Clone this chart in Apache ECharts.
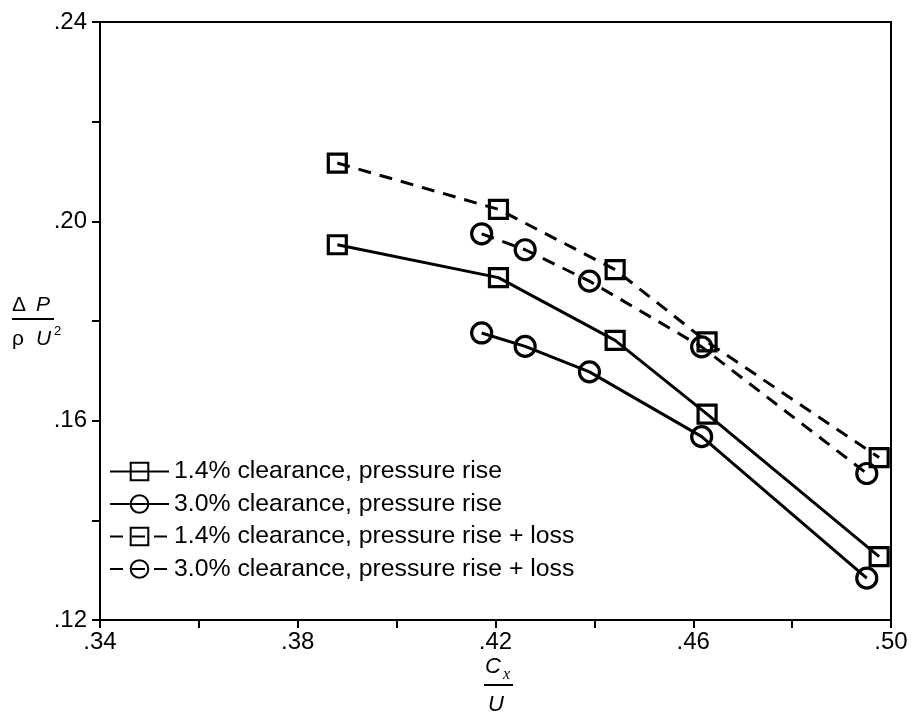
<!DOCTYPE html>
<html>
<head>
<meta charset="utf-8">
<script src="https://cdn.jsdelivr.net/npm/echarts@6/dist/echarts.min.js"></script>
<style>
html,body{margin:0;padding:0;background:#fff;}
#chart{width:912px;height:717px;}
</style>
</head>
<body>
<div id="chart"></div>
<script>
// ---- data ----
var seriesNames = [
  '1.4% clearance, pressure rise',
  '3.0% clearance, pressure rise',
  '1.4% clearance, pressure rise + loss',
  '3.0% clearance, pressure rise + loss'
];
var x14 = [0.3880, 0.4206, 0.4442, 0.4628, 0.4976];
var y14rise = [0.1953, 0.1887, 0.1761, 0.1613, 0.1327];
var y14loss = [0.2117, 0.2024, 0.1903, 0.1758, 0.1526];
var x30 = [0.4172, 0.4260, 0.4390, 0.4617, 0.4951];
var y30rise = [0.1776, 0.1749, 0.1698, 0.1568, 0.1284];
var y30loss = [0.1975, 0.1943, 0.1880, 0.1748, 0.1494];
var xTicks = [0.34, 0.36, 0.38, 0.40, 0.42, 0.44, 0.46, 0.48, 0.50];
var xLabelled = ['.34', '.38', '.42', '.46', '.50'];
var yTicks = [0.12, 0.14, 0.16, 0.18, 0.20, 0.22, 0.24];
var yLabelled = ['.12', '.16', '.20', '.24'];

function pairs(xs, ys) { return xs.map(function (x, i) { return [x, ys[i]]; }); }
function fmt(v) { return v.toFixed(2).replace(/^0/, ''); }

var chart = echarts.init(document.getElementById('chart'));
var FONT = 'Liberation Sans';
var lineW = 3;

function mkSeries(name, data, symbol, size, dashed) {
  return {
    name: name,
    type: 'line',
    data: data,
    symbol: symbol,
    symbolSize: size,
    showSymbol: true,
    lineStyle: { color: '#000', width: lineW, type: dashed ? [13, 9] : 'solid' },
    itemStyle: { color: 'rgba(255,255,255,0)', borderColor: '#000', borderWidth: 3.2 },
    emphasis: { disabled: true },
    animation: false,
    z: 2
  };
}

function txt(left, top, text, size, italic, family) {
  return {
    type: 'text', left: left, top: top,
    style: {
      text: text, fill: '#000', fontSize: size,
      fontStyle: italic ? 'italic' : 'normal',
      fontFamily: family || FONT
    }
  };
}

var option = {
  backgroundColor: '#fff',
  animation: false,
  grid: {
    left: 100, right: 21, top: 22, bottom: 97,
    show: true, borderColor: '#000', borderWidth: 2, backgroundColor: 'transparent'
  },
  xAxis: {
    type: 'value',
    min: xTicks[0], max: xTicks[xTicks.length - 1], interval: 0.02,
    axisLine: { show: true, lineStyle: { color: '#000', width: 2 } },
    axisTick: { show: true, inside: false, length: 8, lineStyle: { color: '#000', width: 2 } },
    splitLine: { show: false },
    axisLabel: {
      margin: 10, color: '#000', fontSize: 24, fontFamily: FONT,
      formatter: function (v) { var s = fmt(v); return xLabelled.indexOf(s) >= 0 ? s : ''; }
    }
  },
  yAxis: {
    type: 'value',
    min: yTicks[0], max: yTicks[yTicks.length - 1], interval: 0.02,
    axisLine: { show: true, lineStyle: { color: '#000', width: 2 } },
    axisTick: { show: true, inside: false, length: 8, lineStyle: { color: '#000', width: 2 } },
    splitLine: { show: false },
    axisLabel: {
      margin: 13, color: '#000', fontSize: 24, fontFamily: FONT,
      formatter: function (v) { var s = fmt(v); return yLabelled.indexOf(s) >= 0 ? s : ''; }
    }
  },
  legend: {
    orient: 'vertical',
    left: 104, top: 454,
    itemWidth: 59, itemHeight: 22, itemGap: 7.5,
    textStyle: { color: '#000', fontSize: 24.8, fontFamily: FONT },
    data: seriesNames,
    selectedMode: false
  },
  series: [
    mkSeries(seriesNames[0], pairs(x14, y14rise), 'rect', 18, false),
    mkSeries(seriesNames[1], pairs(x30, y30rise), 'circle', 20, false),
    mkSeries(seriesNames[2], pairs(x14, y14loss), 'rect', 18, true),
    mkSeries(seriesNames[3], pairs(x30, y30loss), 'circle', 20, true)
  ],
  graphic: [
    // y-axis title: ΔP / (ρ U²)
    txt(12, 295, 'Δ', 21, false),
    txt(36, 295, 'P', 21, true),
    { type: 'line', shape: { x1: 12, y1: 319, x2: 54, y2: 319 }, style: { stroke: '#000', lineWidth: 2 } },
    txt(12, 329, 'ρ', 21, false),
    txt(36, 329, 'U', 21, true),
    txt(54, 325, '2', 13, false),
    // x-axis title: Cx / U
    txt(485, 656, 'C', 22, true),
    txt(503, 667, 'x', 16, true, 'Liberation Serif'),
    { type: 'line', shape: { x1: 484, y1: 685, x2: 513, y2: 685 }, style: { stroke: '#000', lineWidth: 2 } },
    txt(488, 694, 'U', 22, true)
  ]
};
chart.setOption(option);
</script>
</body>
</html>
